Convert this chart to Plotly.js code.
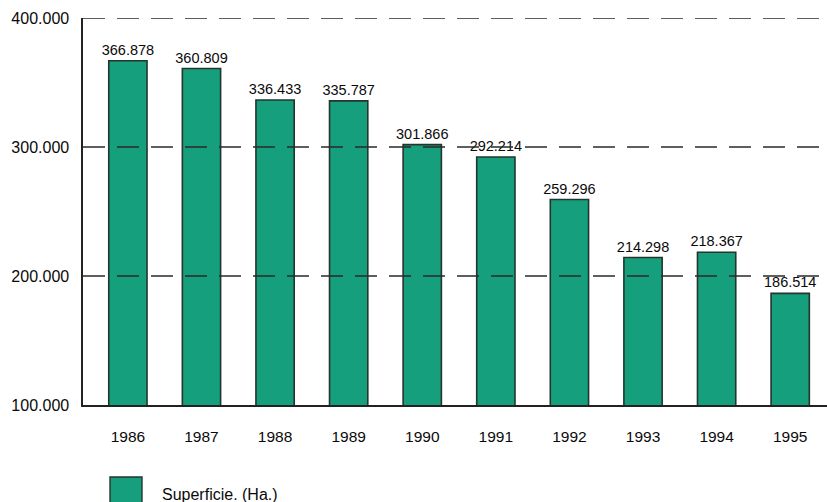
<!DOCTYPE html>
<html>
<head>
<meta charset="utf-8">
<script src="https://cdn.plot.ly/plotly-3.0.1.min.js"></script>
<style>
html,body{margin:0;padding:0;background:#fff;}
#chart{width:827px;height:502px;}
</style>
</head>
<body>
<div id="chart"></div>
<script>
var years = ['1986','1987','1988','1989','1990','1991','1992','1993','1994','1995'];
var superficie = [366878, 360809, 336433, 335787, 301866, 292214, 259296, 214298, 218367, 186514];
var yTicks = [100000, 200000, 300000, 400000];
var seriesName = 'Superficie. (Ha.)';

var barColor = '#169f7c';
var edgeColor = '#24352c';

var trace = {
  type: 'bar',
  x: years,
  y: superficie,
  name: seriesName,
  width: 0.52,
  marker: {color: barColor, line: {color: edgeColor, width: 1.6}},
  texttemplate: '%{y:,d}',
  textposition: 'outside',
  constraintext: 'none',
  cliponaxis: false,
  textfont: {family: 'Liberation Sans, Arial, sans-serif', size: 14.5, color: '#0a0a0a'},
  showlegend: false,
  hoverinfo: 'none'
};

// dashed gridlines drawn above the bars, one per tick value (except the axis baseline)
var gridShapes = yTicks.filter(function (v) { return v > yTicks[0]; }).map(function (v) {
  return {
    type: 'line', xref: 'paper', yref: 'y',
    x0: 0, x1: 0.99, y0: v, y1: v,
    layer: 'above',
    line: {color: '#2a2a2a', width: 1.6, dash: '22px,12px'}
  };
});

// legend key: large square swatch + label
var legendSwatch = {
  type: 'rect', xref: 'paper', yref: 'paper',
  x0: 0.0363, x1: 0.0793, y0: -0.30, y1: -0.186,
  layer: 'above',
  fillcolor: barColor,
  line: {color: edgeColor, width: 1.4}
};
var legendLabel = {
  xref: 'paper', yref: 'paper',
  x: 0.1035, y: -0.23,
  xanchor: 'left', yanchor: 'middle',
  text: seriesName,
  showarrow: false,
  font: {size: 16, color: '#0a0a0a'}
};

var layout = {
  width: 827,
  height: 502,
  margin: {l: 83, r: 0, t: 18, b: 97},
  paper_bgcolor: '#fff',
  plot_bgcolor: '#fff',
  separators: ',.',
  font: {family: 'Liberation Sans, Arial, sans-serif', color: '#0a0a0a'},
  xaxis: {
    type: 'category',
    range: [-0.61, 9.5],
    showline: true,
    linecolor: '#222',
    linewidth: 1.6,
    showgrid: false,
    ticks: '',
    tickfont: {size: 15.5, color: '#0a0a0a'},
    ticklabelstandoff: 17
  },
  yaxis: {
    range: [100000, 400000],
    tickvals: yTicks,
    tickformat: ',d',
    showline: true,
    linecolor: '#222',
    linewidth: 1.6,
    showgrid: false,
    zeroline: false,
    ticks: '',
    tickfont: {size: 16, color: '#0a0a0a'},
    ticklabelstandoff: 9
  },
  shapes: gridShapes.concat([legendSwatch]),
  annotations: [legendLabel],
  showlegend: false
};

Plotly.newPlot('chart', [trace], layout, {displayModeBar: false, staticPlot: true});
</script>
</body>
</html>
